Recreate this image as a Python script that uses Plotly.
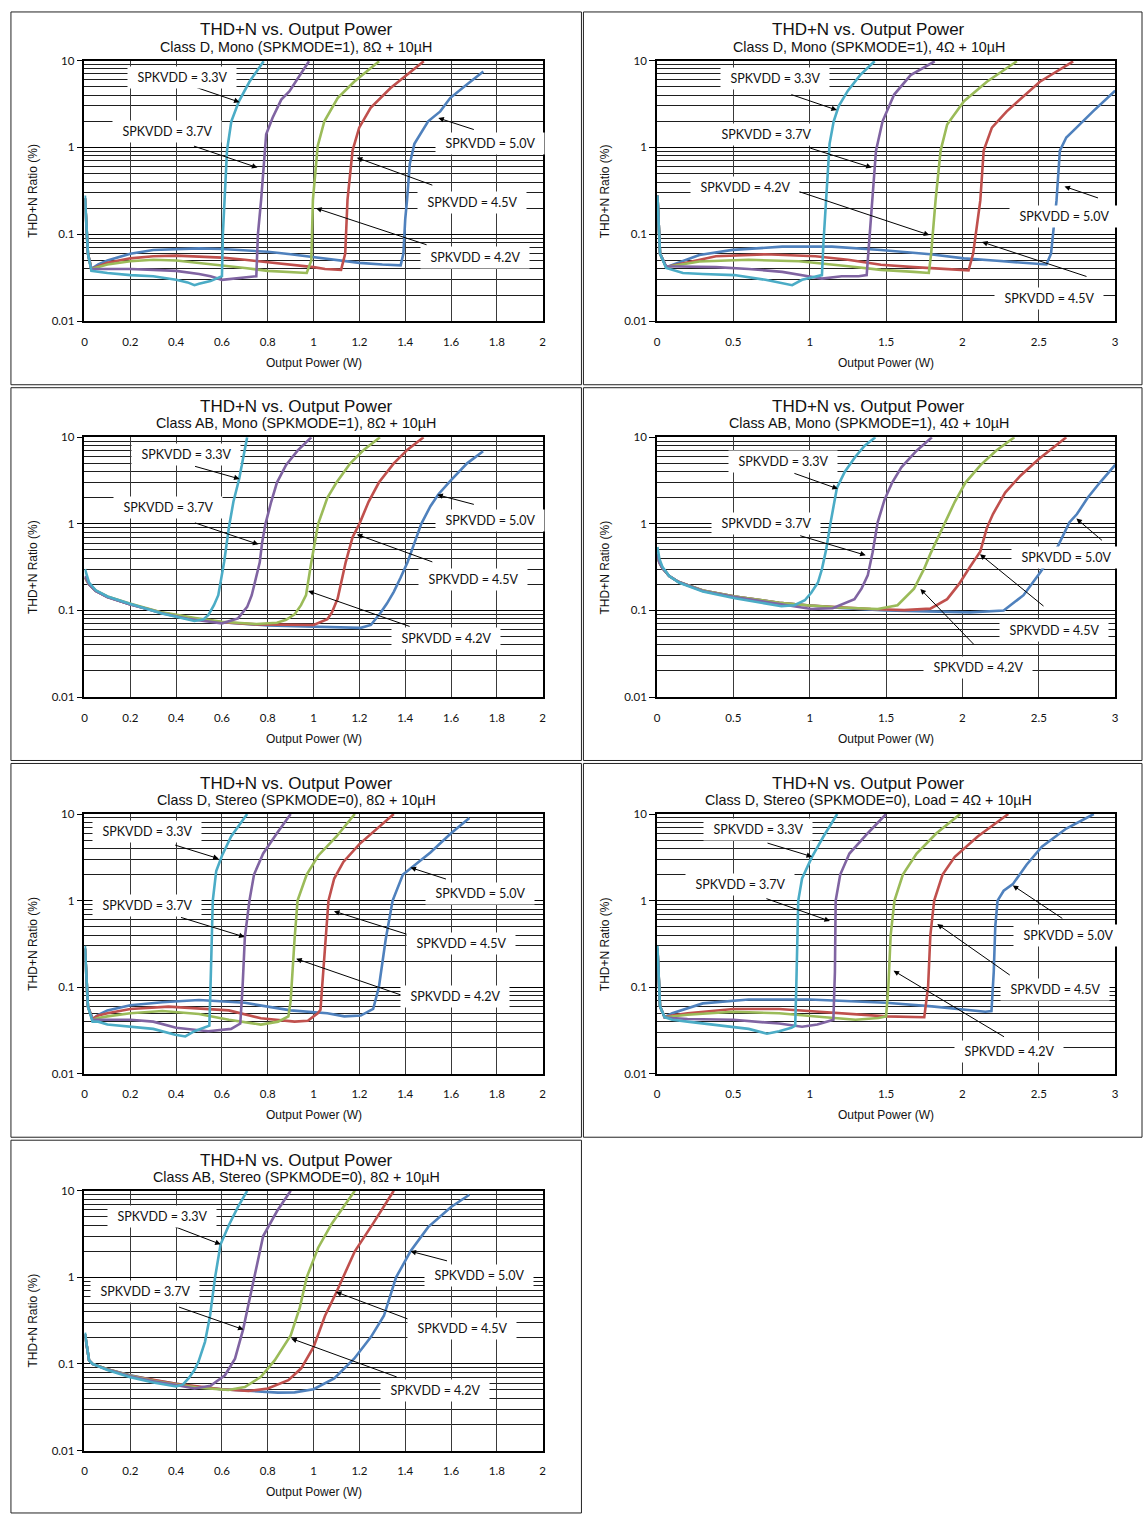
import plotly.graph_objects as go

# ------------------------------------------------------------------ data
VOLTAGES = ["3.3V", "3.7V", "4.2V", "4.5V", "5.0V"]
TITLE = "THD+N vs. Output Power"
SUBTITLES = [
    "Class D, Mono (SPKMODE=1), 8Ω + 10µH",
    "Class D, Mono (SPKMODE=1), 4Ω + 10µH",
    "Class AB, Mono (SPKMODE=1), 8Ω + 10µH",
    "Class AB, Mono (SPKMODE=1), 4Ω + 10µH",
    "Class D, Stereo (SPKMODE=0), 8Ω + 10µH",
    "Class D, Stereo (SPKMODE=0), Load = 4Ω + 10µH",
    "Class AB, Stereo (SPKMODE=0), 8Ω + 10µH",
]
X_TITLE = "Output Power (W)"
Y_TITLE = "THD+N Ratio (%)"
Y_TICKS = [0.01, 0.1, 1, 10]
Y_TICK_TEXT = ["0.01", "0.1", "1", "10"]
X_MAX = [2, 3, 2, 3, 2, 3, 2]
X_DTICK = [0.2, 0.5, 0.2, 0.5, 0.2, 0.5, 0.2]

# Panel 1 : Class D mono 8 ohm
P1_33_X = [0.002, 0.015, 0.03, 0.06, 0.1, 0.2, 0.3, 0.4, 0.45, 0.48, 0.5, 0.55, 0.58, 0.6, 0.604, 0.612, 0.622, 0.641, 0.674, 0.72, 0.782]
P1_33_Y = [0.28, 0.06, 0.038, 0.037, 0.036, 0.034, 0.033, 0.030, 0.028, 0.026, 0.027, 0.029, 0.031, 0.033, 0.1, 0.25, 0.92, 2.0, 3.4, 5.7, 9.8]
P1_37_X = [0.002, 0.015, 0.03, 0.06, 0.1, 0.2, 0.3, 0.4, 0.5, 0.55, 0.6, 0.65, 0.7, 0.75, 0.757, 0.771, 0.793, 0.821, 0.859, 0.894, 0.98]
P1_37_Y = [0.26, 0.06, 0.04, 0.04, 0.04, 0.04, 0.039, 0.038, 0.035, 0.033, 0.030, 0.031, 0.032, 0.033, 0.1, 0.25, 1.42, 2.2, 3.55, 4.4, 9.8]
P1_42_X = [0.002, 0.015, 0.03, 0.06, 0.1, 0.2, 0.3, 0.4, 0.5, 0.6, 0.7, 0.8, 0.9, 0.97, 0.99, 0.997, 1.018, 1.047, 1.105, 1.177, 1.286]
P1_42_Y = [0.26, 0.06, 0.04, 0.042, 0.045, 0.049, 0.051, 0.050, 0.047, 0.044, 0.041, 0.038, 0.037, 0.036, 0.05, 0.25, 1.04, 2.0, 3.7, 5.7, 9.8]
P1_45_X = [0.002, 0.015, 0.03, 0.06, 0.1, 0.2, 0.3, 0.4, 0.5, 0.6, 0.7, 0.8, 0.9, 1.0, 1.05, 1.12, 1.138, 1.148, 1.17, 1.199, 1.249, 1.336, 1.481]
P1_45_Y = [0.26, 0.06, 0.04, 0.043, 0.047, 0.053, 0.056, 0.057, 0.056, 0.054, 0.051, 0.048, 0.045, 0.042, 0.040, 0.039, 0.06, 0.25, 0.92, 1.69, 2.86, 4.83, 9.8]
P1_50_X = [0.002, 0.015, 0.03, 0.06, 0.1, 0.2, 0.3, 0.4, 0.5, 0.6, 0.7, 0.8, 0.9, 1.0, 1.1, 1.2, 1.3, 1.38, 1.392, 1.40, 1.408, 1.42, 1.44, 1.474, 1.50, 1.553, 1.596, 1.669, 1.741]
P1_50_Y = [0.26, 0.06, 0.04, 0.045, 0.05, 0.06, 0.066, 0.068, 0.069, 0.068, 0.066, 0.063, 0.059, 0.055, 0.051, 0.047, 0.045, 0.044, 0.06, 0.15, 0.25, 0.65, 1.1, 1.55, 2.0, 2.6, 3.7, 5.3, 7.5]

# Panel 2 : Class D mono 4 ohm
P2_33_X = [0.003, 0.02, 0.06, 0.17, 0.3, 0.506, 0.71, 0.885, 0.95, 1.037, 1.08, 1.09, 1.11, 1.13, 1.157, 1.19, 1.25, 1.33, 1.425]
P2_33_Y = [0.28, 0.06, 0.041, 0.036, 0.035, 0.034, 0.030, 0.026, 0.030, 0.033, 0.034, 0.08, 0.3, 1.1, 2.0, 3.0, 4.5, 6.8, 9.8]
P2_37_X = [0.003, 0.02, 0.06, 0.386, 0.6, 0.82, 0.99, 1.08, 1.21, 1.32, 1.373, 1.384, 1.405, 1.412, 1.434, 1.477, 1.553, 1.661, 1.818]
P2_37_Y = [0.28, 0.06, 0.043, 0.042, 0.040, 0.037, 0.033, 0.031, 0.033, 0.033, 0.034, 0.06, 0.2, 0.246, 0.92, 2.0, 4.06, 6.8, 9.8]
P2_42_X = [0.003, 0.02, 0.06, 0.278, 0.6, 0.93, 1.254, 1.466, 1.683, 1.78, 1.795, 1.824, 1.857, 1.90, 2.01, 2.16, 2.356]
P2_42_Y = [0.28, 0.06, 0.042, 0.0487, 0.051, 0.049, 0.043, 0.039, 0.037, 0.036, 0.06, 0.246, 0.92, 1.84, 3.4, 5.7, 9.8]
P2_45_X = [0.003, 0.02, 0.06, 0.386, 0.71, 1.037, 1.25, 1.466, 1.683, 1.90, 2.04, 2.07, 2.117, 2.139, 2.193, 2.29, 2.507, 2.725]
P2_45_Y = [0.28, 0.06, 0.042, 0.056, 0.059, 0.056, 0.051, 0.0447, 0.042, 0.040, 0.0385, 0.06, 0.246, 0.92, 1.69, 2.6, 5.7, 9.8]
P2_50_X = [0.003, 0.02, 0.06, 0.278, 0.495, 0.82, 1.145, 1.466, 1.79, 2.01, 2.225, 2.44, 2.55, 2.58, 2.616, 2.638, 2.68, 2.725, 2.855, 3.0]
P2_50_Y = [0.28, 0.06, 0.042, 0.058, 0.0663, 0.0722, 0.0722, 0.066, 0.059, 0.053, 0.0497, 0.0466, 0.045, 0.06, 0.246, 0.92, 1.3, 1.55, 2.6, 4.5]

# Panel 3 : Class AB mono 8 ohm
P3_33_X = [0.002, 0.02, 0.049, 0.1, 0.194, 0.338, 0.48, 0.52, 0.541, 0.565, 0.584, 0.6, 0.61, 0.63, 0.65, 0.675, 0.69, 0.71]
P3_33_Y = [0.30, 0.21, 0.171, 0.145, 0.12, 0.092, 0.0755, 0.079, 0.0886, 0.115, 0.15, 0.25, 0.37, 0.9, 1.8, 3.3, 5.5, 10]
P3_37_X = [0.002, 0.02, 0.049, 0.1, 0.194, 0.338, 0.45, 0.55, 0.6, 0.67, 0.71, 0.73, 0.75, 0.765, 0.775, 0.79, 0.815, 0.84, 0.88, 0.93, 0.99]
P3_37_Y = [0.25, 0.2, 0.168, 0.143, 0.119, 0.093, 0.08, 0.074, 0.071, 0.081, 0.11, 0.15, 0.24, 0.36, 0.6, 1.0, 1.8, 3.0, 4.8, 7.0, 10]
P3_42_X = [0.002, 0.02, 0.049, 0.1, 0.194, 0.338, 0.483, 0.6, 0.75, 0.84, 0.88, 0.917, 0.945, 0.967, 0.99, 1.02, 1.06, 1.1, 1.16, 1.22, 1.29]
P3_42_Y = [0.24, 0.2, 0.17, 0.145, 0.121, 0.095, 0.082, 0.074, 0.0697, 0.072, 0.078, 0.09, 0.115, 0.15, 0.36, 1.0, 2.0, 3.0, 5.0, 7.2, 10]
P3_45_X = [0.002, 0.02, 0.049, 0.1, 0.194, 0.338, 0.483, 0.6, 0.75, 0.9, 1.0, 1.06, 1.08, 1.105, 1.14, 1.17, 1.2, 1.24, 1.285, 1.35, 1.41, 1.48]
P3_45_Y = [0.24, 0.2, 0.168, 0.143, 0.119, 0.094, 0.08, 0.073, 0.069, 0.068, 0.068, 0.079, 0.095, 0.137, 0.36, 0.7, 1.0, 1.8, 3.0, 5.0, 7.2, 10]
P3_50_X = [0.002, 0.02, 0.049, 0.1, 0.194, 0.338, 0.483, 0.6, 0.8, 1.0, 1.1, 1.206, 1.25, 1.29, 1.32, 1.35, 1.38, 1.41, 1.44, 1.47, 1.51, 1.545, 1.6, 1.67, 1.74]
P3_50_Y = [0.24, 0.2, 0.168, 0.143, 0.119, 0.094, 0.08, 0.073, 0.067, 0.065, 0.063, 0.063, 0.068, 0.092, 0.12, 0.164, 0.24, 0.36, 0.6, 1.0, 1.6, 2.2, 3.2, 5.0, 6.9]

# Panel 4 : Class AB mono 4 ohm
P4_33_X = [0.003, 0.015, 0.035, 0.08, 0.143, 0.3, 0.51, 0.7, 0.815, 0.9, 0.968, 1.01, 1.054, 1.08, 1.108, 1.137, 1.178, 1.23, 1.3, 1.36, 1.43]
P4_33_Y = [0.54, 0.40, 0.32, 0.25, 0.21, 0.165, 0.138, 0.12, 0.112, 0.115, 0.131, 0.16, 0.21, 0.3, 0.51, 1.04, 2.6, 4.0, 6.0, 8.0, 10]
P4_37_X = [0.003, 0.015, 0.035, 0.08, 0.143, 0.3, 0.51, 0.8, 1.01, 1.15, 1.293, 1.34, 1.38, 1.412, 1.445, 1.49, 1.54, 1.6, 1.7, 1.8]
P4_37_Y = [0.45, 0.36, 0.31, 0.25, 0.213, 0.168, 0.143, 0.12, 0.104, 0.106, 0.135, 0.18, 0.254, 0.47, 1.04, 1.9, 3.0, 4.5, 7.0, 10]
P4_42_X = [0.003, 0.015, 0.035, 0.08, 0.143, 0.3, 0.51, 0.8, 1.0, 1.2, 1.445, 1.575, 1.683, 1.748, 1.79, 1.835, 1.89, 1.95, 2.02, 2.12, 2.22, 2.34]
P4_42_Y = [0.45, 0.36, 0.31, 0.25, 0.213, 0.17, 0.145, 0.123, 0.114, 0.108, 0.104, 0.115, 0.178, 0.30, 0.45, 0.667, 1.04, 1.8, 3.0, 4.8, 7.0, 10]
P4_45_X = [0.003, 0.015, 0.035, 0.08, 0.143, 0.3, 0.51, 0.8, 1.0, 1.2, 1.4, 1.618, 1.79, 1.9, 1.976, 2.05, 2.117, 2.16, 2.2, 2.28, 2.38, 2.5, 2.68]
P4_45_Y = [0.45, 0.36, 0.31, 0.25, 0.213, 0.17, 0.145, 0.123, 0.114, 0.108, 0.104, 0.101, 0.105, 0.135, 0.2, 0.32, 0.48, 0.9, 1.3, 2.3, 3.6, 5.6, 10]
P4_50_X = [0.003, 0.015, 0.035, 0.08, 0.143, 0.3, 0.51, 0.8, 1.0, 1.2, 1.5, 1.8, 2.05, 2.27, 2.4, 2.51, 2.627, 2.70, 2.75, 2.82, 2.9, 3.0]
P4_50_Y = [0.45, 0.36, 0.31, 0.25, 0.213, 0.17, 0.145, 0.123, 0.114, 0.107, 0.10, 0.097, 0.095, 0.10, 0.15, 0.277, 0.56, 1.04, 1.3, 2.0, 3.0, 4.8]

# Panel 5 : Class D stereo 8 ohm
P5_33_X = [0.002, 0.015, 0.035, 0.06, 0.1, 0.2, 0.3, 0.396, 0.44, 0.48, 0.52, 0.545, 0.55, 0.555, 0.56, 0.575, 0.6, 0.64, 0.71]
P5_33_Y = [0.30, 0.06, 0.04, 0.04, 0.037, 0.035, 0.033, 0.0282, 0.027, 0.031, 0.034, 0.036, 0.1, 0.36, 1.0, 2.2, 3.3, 5.5, 10]
P5_37_X = [0.002, 0.015, 0.035, 0.06, 0.1, 0.2, 0.3, 0.4, 0.54, 0.64, 0.68, 0.69, 0.70, 0.72, 0.74, 0.78, 0.84, 0.90]
P5_37_Y = [0.28, 0.06, 0.042, 0.042, 0.042, 0.042, 0.04, 0.034, 0.031, 0.033, 0.038, 0.1, 0.38, 1.0, 2.0, 3.5, 6.0, 10]
P5_42_X = [0.002, 0.015, 0.035, 0.06, 0.1, 0.2, 0.34, 0.5, 0.63, 0.77, 0.845, 0.89, 0.90, 0.91, 0.917, 0.93, 0.97, 1.02, 1.1, 1.18]
P5_42_Y = [0.28, 0.06, 0.042, 0.044, 0.046, 0.05, 0.053, 0.049, 0.042, 0.037, 0.040, 0.046, 0.07, 0.2, 0.36, 1.0, 2.0, 3.3, 5.5, 10]
P5_45_X = [0.002, 0.015, 0.035, 0.06, 0.1, 0.2, 0.367, 0.5, 0.63, 0.77, 0.917, 0.975, 1.018, 1.03, 1.045, 1.055, 1.065, 1.09, 1.13, 1.2, 1.27, 1.35]
P5_45_Y = [0.28, 0.06, 0.043, 0.047, 0.05, 0.056, 0.0596, 0.057, 0.054, 0.0437, 0.040, 0.041, 0.05, 0.055, 0.2, 0.5, 1.0, 1.8, 2.8, 4.5, 6.5, 10]
P5_50_X = [0.002, 0.015, 0.035, 0.06, 0.1, 0.2, 0.34, 0.5, 0.7, 0.9, 1.06, 1.134, 1.206, 1.26, 1.285, 1.30, 1.315, 1.345, 1.39, 1.423, 1.51, 1.6, 1.68]
P5_50_Y = [0.28, 0.06, 0.043, 0.048, 0.054, 0.062, 0.067, 0.071, 0.066, 0.054, 0.05, 0.046, 0.047, 0.056, 0.1, 0.2, 0.36, 1.0, 2.0, 2.35, 3.6, 6.0, 9.0]

# Panel 6 : Class D stereo 4 ohm
P6_33_X = [0.003, 0.02, 0.05, 0.1, 0.2, 0.3, 0.5, 0.6, 0.72, 0.8, 0.88, 0.905, 0.912, 0.918, 0.925, 0.95, 1.015, 1.09, 1.18]
P6_33_Y = [0.30, 0.06, 0.045, 0.042, 0.04, 0.038, 0.035, 0.033, 0.029, 0.031, 0.034, 0.036, 0.1, 0.4, 1.0, 1.8, 3.2, 5.5, 10]
P6_37_X = [0.003, 0.02, 0.05, 0.1, 0.2, 0.5, 0.8, 0.95, 1.05, 1.12, 1.155, 1.165, 1.17, 1.2, 1.26, 1.38, 1.5]
P6_37_Y = [0.28, 0.06, 0.045, 0.044, 0.043, 0.042, 0.038, 0.035, 0.037, 0.040, 0.042, 0.15, 1.0, 2.0, 3.5, 6.0, 10]
P6_42_X = [0.003, 0.02, 0.05, 0.1, 0.2, 0.5, 0.8, 1.1, 1.3, 1.45, 1.5, 1.515, 1.53, 1.555, 1.61, 1.7, 1.83, 1.985]
P6_42_Y = [0.28, 0.06, 0.045, 0.046, 0.048, 0.052, 0.050, 0.045, 0.042, 0.044, 0.046, 0.1, 0.4, 1.0, 2.0, 3.5, 6.0, 10]
P6_45_X = [0.003, 0.02, 0.05, 0.1, 0.2, 0.5, 0.8, 1.2, 1.5, 1.75, 1.775, 1.79, 1.815, 1.87, 1.95, 2.1, 2.3]
P6_45_Y = [0.28, 0.06, 0.045, 0.047, 0.05, 0.056, 0.056, 0.050, 0.046, 0.045, 0.1, 0.4, 1.0, 2.0, 3.2, 5.5, 10]
P6_50_X = [0.003, 0.02, 0.05, 0.1, 0.3, 0.6, 1.0, 1.5, 1.8, 2.0, 2.15, 2.19, 2.205, 2.215, 2.23, 2.27, 2.33, 2.42, 2.52, 2.68, 2.86]
P6_50_Y = [0.28, 0.06, 0.045, 0.05, 0.065, 0.072, 0.072, 0.066, 0.06, 0.055, 0.052, 0.053, 0.15, 0.5, 1.0, 1.3, 1.55, 2.6, 4.2, 6.8, 10]

# Panel 7 : Class AB stereo 8 ohm
P7_33_X = [0.002, 0.02, 0.035, 0.1, 0.2, 0.3, 0.4, 0.43, 0.454, 0.48, 0.497, 0.526, 0.548, 0.57, 0.594, 0.63, 0.67, 0.71]
P7_33_Y = [0.23, 0.11, 0.10, 0.085, 0.070, 0.061, 0.055, 0.058, 0.068, 0.085, 0.105, 0.18, 0.36, 1.0, 2.41, 4.0, 6.5, 10]
P7_37_X = [0.002, 0.02, 0.035, 0.1, 0.2, 0.3, 0.4, 0.48, 0.55, 0.613, 0.657, 0.693, 0.72, 0.74, 0.78, 0.84, 0.90]
P7_37_Y = [0.22, 0.11, 0.10, 0.086, 0.072, 0.063, 0.057, 0.052, 0.056, 0.074, 0.115, 0.254, 0.55, 1.0, 3.0, 5.8, 10]
P7_42_X = [0.002, 0.02, 0.035, 0.1, 0.2, 0.3, 0.4, 0.5, 0.628, 0.70, 0.77, 0.83, 0.90, 0.94, 0.97, 1.02, 1.08, 1.18]
P7_42_Y = [0.22, 0.11, 0.10, 0.087, 0.073, 0.064, 0.058, 0.053, 0.050, 0.054, 0.071, 0.11, 0.213, 0.45, 1.0, 2.2, 4.2, 10]
P7_45_X = [0.002, 0.02, 0.035, 0.1, 0.2, 0.3, 0.4, 0.5, 0.6, 0.715, 0.80, 0.89, 0.946, 1.0, 1.05, 1.098, 1.13, 1.18, 1.26, 1.35]
P7_45_Y = [0.22, 0.11, 0.10, 0.087, 0.073, 0.065, 0.059, 0.055, 0.051, 0.0486, 0.052, 0.065, 0.089, 0.157, 0.36, 0.66, 1.0, 2.0, 4.2, 10]
P7_50_X = [0.002, 0.02, 0.035, 0.1, 0.2, 0.3, 0.4, 0.5, 0.6, 0.7, 0.845, 0.917, 1.0, 1.09, 1.177, 1.25, 1.307, 1.36, 1.423, 1.5, 1.6, 1.68]
P7_50_Y = [0.22, 0.11, 0.10, 0.087, 0.074, 0.065, 0.059, 0.054, 0.051, 0.049, 0.0466, 0.047, 0.051, 0.068, 0.115, 0.204, 0.36, 1.0, 2.0, 3.8, 6.5, 9.0]

CURVES = [
    [(P1_33_X, P1_33_Y), (P1_37_X, P1_37_Y), (P1_42_X, P1_42_Y), (P1_45_X, P1_45_Y), (P1_50_X, P1_50_Y)],
    [(P2_33_X, P2_33_Y), (P2_37_X, P2_37_Y), (P2_42_X, P2_42_Y), (P2_45_X, P2_45_Y), (P2_50_X, P2_50_Y)],
    [(P3_33_X, P3_33_Y), (P3_37_X, P3_37_Y), (P3_42_X, P3_42_Y), (P3_45_X, P3_45_Y), (P3_50_X, P3_50_Y)],
    [(P4_33_X, P4_33_Y), (P4_37_X, P4_37_Y), (P4_42_X, P4_42_Y), (P4_45_X, P4_45_Y), (P4_50_X, P4_50_Y)],
    [(P5_33_X, P5_33_Y), (P5_37_X, P5_37_Y), (P5_42_X, P5_42_Y), (P5_45_X, P5_45_Y), (P5_50_X, P5_50_Y)],
    [(P6_33_X, P6_33_Y), (P6_37_X, P6_37_Y), (P6_42_X, P6_42_Y), (P6_45_X, P6_45_Y), (P6_50_X, P6_50_Y)],
    [(P7_33_X, P7_33_Y), (P7_37_X, P7_37_Y), (P7_42_X, P7_42_Y), (P7_45_X, P7_45_Y), (P7_50_X, P7_50_Y)],
]

# ------------------------------------------------------------------ layout (pixels)
W, H = 1147, 1517
COLORS = ["#4BACC6", "#8064A2", "#9BBB59", "#C0504D", "#4F81BD"]
COL_PLOT_X = [(82, 543), (658, 1119)]
COL_CENTER = [295, 871]
COL_BOX = [(8, 582), (584, 1146)]
ROW_PLOT_Y = [(54, 317), (434, 696), (814, 1076), (1194, 1456)]
ROW_BOX = [(5, 381), (384, 760), (763, 1140), (1143, 1519)]
ROW_TITLE_Y = [23, 403, 783, 1163]
ROW_SUB_Y = [40, 420, 800, 1180]
ROW_XT_Y = [359, 738, 1118, 1498]
COL_YT_X = [30, 606]

# (voltage index, label centre, arrow tail, arrow head) in pixels
LABELS = [
    [(0, (180, 71), (191, 80), (238, 96)), (1, (165, 126), (191, 140), (256, 162)),
     (4, (490, 138), (475, 124), (438, 112)), (3, (472, 197), (433, 180), (356, 152)),
     (2, (475, 253), (427, 240), (315, 203))],
    [(0, (777, 72), (792, 88), (839, 104)), (1, (768, 129), (811, 142), (874, 162)),
     (2, (747, 182), (800, 186), (932, 230)), (4, (1068, 211), (1103, 193), (1068, 181)),
     (3, (1052, 294), (1091, 272), (985, 237))],
    [(0, (184, 451), (192, 463), (238, 476)), (1, (166, 505), (192, 520), (257, 542)),
     (4, (490, 518), (475, 502), (437, 492)), (3, (473, 577), (433, 560), (356, 532)),
     (2, (446, 637), (410, 625), (307, 589))],
    [(0, (785, 458), (795, 470), (840, 486)), (1, (768, 521), (801, 533), (868, 553)),
     (4, (1070, 555), (1107, 539), (1080, 516)), (3, (1057, 629), (1048, 605), (983, 552)),
     (2, (981, 666), (978, 644), (923, 587))],
    [(0, (145, 832), (172, 845), (217, 859)), (1, (145, 906), (178, 918), (243, 938)),
     (4, (480, 894), (447, 880), (410, 868)), (3, (461, 945), (412, 937), (333, 912)),
     (2, (455, 998), (405, 998), (295, 960))],
    [(0, (760, 830), (768, 843), (814, 857)), (1, (742, 885), (767, 899), (832, 922)),
     (4, (1072, 937), (1067, 920), (1016, 886)), (3, (1058, 991), (1014, 977), (940, 925)),
     (2, (1012, 1054), (1008, 1039), (896, 972))],
    [(0, (160, 1220), (172, 1230), (219, 1248)), (1, (143, 1296), (176, 1311), (242, 1334)),
     (4, (479, 1279), (448, 1265), (410, 1255)), (3, (462, 1333), (412, 1325), (335, 1296)),
     (2, (435, 1395), (397, 1382), (290, 1343))],
]

MINOR_Y = [m * d for d in (0.01, 0.1, 1) for m in range(2, 10)]
TITLE_FONT = "Liberation Sans, Arial, sans-serif"
LABEL_FONT = "Lato, Carlito, Calibri, sans-serif"


def fx(px):
    return px / W


def fy(py):
    return 1 - py / H


fig = go.Figure()
layout = {}
annotations = []
shapes = []

for i in range(7):
    row, col = divmod(i, 2)
    n = i + 1
    xn = "x" if n == 1 else f"x{n}"
    yn = "y" if n == 1 else f"y{n}"
    xk = "xaxis" if n == 1 else f"xaxis{n}"
    yk = "yaxis" if n == 1 else f"yaxis{n}"

    for vi in [4, 3, 2, 1, 0]:
        xs, ys = CURVES[i][vi]
        fig.add_trace(go.Scatter(x=xs, y=ys, mode="lines", xaxis=xn, yaxis=yn,
                                 line=dict(color=COLORS[vi], width=2.6),
                                 showlegend=False, hoverinfo="skip",
                                 name="SPKVDD = " + VOLTAGES[vi]))

    x0, x1 = COL_PLOT_X[col]
    y0, y1 = ROW_PLOT_Y[row]
    layout[xk] = dict(domain=[fx(x0), fx(x1)], anchor=yn, range=[0, X_MAX[i]],
                      dtick=X_DTICK[i], tick0=0, showgrid=True, gridcolor="#3a3a3a",
                      gridwidth=1, zeroline=False, showline=True, linecolor="black",
                      linewidth=1.6, mirror=True, ticks="", ticklabelstandoff=9,
                      tickfont=dict(family=LABEL_FONT, size=11.5, color="#111"))
    layout[yk] = dict(domain=[fy(y1), fy(y0)], anchor=xn, type="log", range=[-2, 1],
                      tickvals=Y_TICKS, ticktext=Y_TICK_TEXT, showgrid=True,
                      gridcolor="black", gridwidth=1, zeroline=False, showline=True,
                      linecolor="black", linewidth=1.6, mirror=True, ticks="outside",
                      ticklen=6, tickcolor="black", tickwidth=1.4,
                      tickfont=dict(family=LABEL_FONT, size=11.5, color="#111"),
                      minor=dict(tickvals=MINOR_Y, showgrid=True, gridcolor="#1e1e1e",
                                 gridwidth=1, ticks=""))

    bx0, bx1 = COL_BOX[col]
    by0, by1 = ROW_BOX[row]
    shapes.append(dict(type="rect", xref="paper", yref="paper", x0=fx(bx0), x1=fx(bx1),
                       y0=fy(by1), y1=fy(by0), line=dict(color="#222", width=1),
                       fillcolor="rgba(0,0,0,0)", layer="below"))

    annotations.append(dict(text=TITLE, x=fx(COL_CENTER[col]), y=fy(ROW_TITLE_Y[row]),
                            xref="paper", yref="paper", showarrow=False,
                            font=dict(family=TITLE_FONT, size=17, color="#111"),
                            xanchor="center", yanchor="middle"))
    annotations.append(dict(text=SUBTITLES[i], x=fx(COL_CENTER[col]), y=fy(ROW_SUB_Y[row]),
                            xref="paper", yref="paper", showarrow=False,
                            font=dict(family=TITLE_FONT, size=14.3, color="#111"),
                            xanchor="center", yanchor="middle"))
    annotations.append(dict(text=X_TITLE, x=fx((x0 + x1) / 2), y=fy(ROW_XT_Y[row]),
                            xref="paper", yref="paper", showarrow=False,
                            font=dict(family=TITLE_FONT, size=12, color="#111"),
                            xanchor="center", yanchor="middle"))
    annotations.append(dict(text=Y_TITLE, x=fx(COL_YT_X[col]), y=fy((y0 + y1) / 2),
                            xref="paper", yref="paper", showarrow=False, textangle=-90,
                            font=dict(family=TITLE_FONT, size=12, color="#111"),
                            xanchor="center", yanchor="middle"))

    for vi, (lx, ly), (tx, ty), (hx, hy) in LABELS[i]:
        annotations.append(dict(text="", x=fx(hx), y=fy(hy), xref="paper", yref="paper",
                                showarrow=True, arrowhead=2, arrowsize=1.1, arrowwidth=1,
                                arrowcolor="black", ax=tx - hx, ay=ty - hy, axref="pixel",
                                ayref="pixel", standoff=0, startstandoff=0))
        annotations.append(dict(text="\u00a0\u00a0SPKVDD = " + VOLTAGES[vi] + "\u00a0\u00a0",
                                x=fx(lx), y=fy(ly), xref="paper", yref="paper",
                                showarrow=False, bgcolor="white", borderpad=3,
                                font=dict(family=LABEL_FONT, size=12.5, color="#111"),
                                xanchor="center", yanchor="middle"))

fig.update_layout(width=W, height=H, autosize=False,
                  margin=dict(l=0, r=0, t=0, b=0, pad=0),
                  paper_bgcolor="white", plot_bgcolor="white",
                  showlegend=False, annotations=annotations, shapes=shapes, **layout)

POST = ("document.documentElement.style.margin='0';document.body.style.margin='0';"
        "document.documentElement.style.overflow='hidden';"
        "var gd=document.getElementById('{plot_id}');"
        "gd.style.position='absolute';gd.style.left='0px';gd.style.top='0px';")

fig.write_html("out.html", config={"displayModeBar": False}, post_script=POST)
